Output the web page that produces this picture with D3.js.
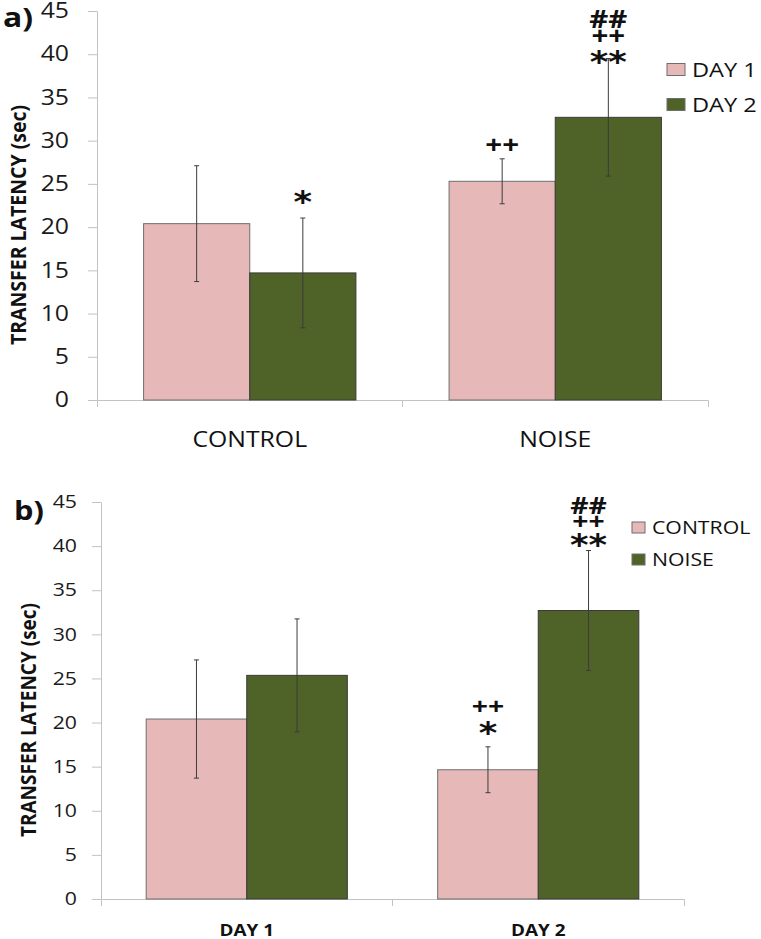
<!DOCTYPE html>
<html><head><meta charset="utf-8">
<script src="https://cdn.jsdelivr.net/npm/d3@7"></script>
<style>html,body{margin:0;padding:0;background:#fff;}svg{display:block;}</style>
</head><body>
<script>
// ---------- DATA ----------
const yTicks = [0, 5, 10, 15, 20, 25, 30, 35, 40, 45];

// Panel a
const catsA = ["CONTROL", "NOISE"];
const seriesA = ["DAY 1", "DAY 2"];
const day1MeanA = [20.4, 25.3];
const day2MeanA = [14.7, 32.7];
const day1ErrA = [6.7, 2.6];
const day2ErrA = [6.35, 6.8];
const day1AnnotA = [[], ["++"]];
const day2AnnotA = [["*"], ["**", "++", "##"]];

// Panel b
const catsB = ["DAY 1", "DAY 2"];
const seriesB = ["CONTROL", "NOISE"];
const controlMeanB = [20.4, 14.65];
const noiseMeanB = [25.35, 32.7];
const controlErrB = [6.7, 2.6];
const noiseErrB = [6.4, 6.8];
const controlAnnotB = [[], ["*", "++"]];
const noiseAnnotB = [[], ["**", "++", "##"]];

// ---------- STYLE ----------
const colors = ["#E6B9B8", "#4F6228"];
const SX = 1.18;
const W = 761, H = 939;
const svg = d3.select("body").append("svg").attr("width", W).attr("height", H);

function stretchText(g, x, y, str, size, weight, anchor, family) {
  return g.append("text")
    .attr("transform", `translate(${x},${y}) scale(${SX},1)`)
    .attr("text-anchor", anchor || "start")
    .attr("font-family", family || "'Open Sans', sans-serif")
    .attr("font-size", size)
    .attr("font-weight", weight || "normal")
    .attr("fill", "#111")
    .text(str);
}

function panel(cfg) {
  const g = svg.append("g");
  const y = d3.scaleLinear().domain([0, 45]).range([cfg.y0, cfg.y45]);
  const x0 = d3.scaleBand().domain(cfg.cats).range([cfg.xl, cfg.xr])
    .paddingInner(cfg.pad).paddingOuter(cfg.pad / 2);
  const x1 = d3.scaleBand().domain(cfg.series).range([0, x0.bandwidth()]);
  const axisColor = "#c3c3c3";

  // y axis
  const ya = d3.axisLeft(y).tickValues(yTicks).tickSize(9).tickSizeOuter(0);
  const yg = g.append("g").attr("transform", `translate(${cfg.xl},0)`).call(ya);
  yg.select(".domain").attr("stroke", axisColor);
  yg.selectAll(".tick line").attr("stroke", axisColor);
  yg.selectAll(".tick text")
    .attr("font-family", "'Open Sans', sans-serif")
    .attr("font-size", cfg.tickFont)
    .attr("fill", "#1a1a1a")
    .attr("x", -cfg.tickOff / SX)
    .attr("transform", `scale(${SX},1)`);

  // x axis
  const xa = d3.axisBottom(x0).tickValues([]).tickSizeOuter(7);
  const xg = g.append("g").attr("transform", `translate(0,${cfg.y0})`).call(xa);
  xg.select(".domain").attr("stroke", axisColor);
  const bounds = d3.range(1, cfg.cats.length).map(i => cfg.xl + i * x0.step());
  xg.selectAll(".btick").data(bounds).join("line").attr("class", "btick")
    .attr("x1", d => d).attr("x2", d => d).attr("y1", 0).attr("y2", 7)
    .attr("stroke", axisColor);

  // bars
  cfg.series.forEach((s, si) => {
    const means = cfg.means[si];
    cfg.cats.forEach((c, ci) => {
      const bx = x0(c) + x1(s);
      g.append("rect").attr("x", bx).attr("y", y(means[ci]))
        .attr("width", x1.bandwidth()).attr("height", y(0) - y(means[ci]))
        .attr("fill", colors[si]).attr("stroke", si === 0 ? "#6e6e6e" : "#3a3a3a").attr("stroke-width", 1);
    });
  });
  cfg.series.forEach((s, si) => {
    const means = cfg.means[si], errs = cfg.errs[si], ann = cfg.annots[si];
    cfg.cats.forEach((c, ci) => {
      const cx = x0(c) + x1(s) + x1.bandwidth() / 2;
      const hi = y(means[ci] + errs[ci]), lo = y(means[ci] - errs[ci]);
      g.append("line").attr("x1", cx).attr("x2", cx).attr("y1", hi).attr("y2", lo)
        .attr("stroke", "#3c3c3c").attr("stroke-width", 1);
      [hi, lo].forEach(v => g.append("line").attr("x1", cx - 2.5).attr("x2", cx + 2.5)
        .attr("y1", v).attr("y2", v).attr("stroke", "#3c3c3c").attr("stroke-width", 1));
      // annotations, stacked upward
      const lifts = cfg.lifts[si][ci];
      ann[ci].forEach((t, li) => {
        const centre = hi - lifts[li];
        if (t.indexOf("*") >= 0) {
          stretchText(g, cx, centre + 17, t, 30, "bold", "middle", "'DejaVu Sans', sans-serif");
        } else {
          stretchText(g, cx, centre + 9, t, cfg.annFont, "bold", "middle");
        }
      });
    });
  });

  // category labels
  cfg.cats.forEach(c => {
    stretchText(g, x0(c) + x0.bandwidth() / 2, cfg.catY, c, cfg.catFont, cfg.catWeight, "middle");
  });

  // y title
  g.append("text")
    .attr("transform", `translate(${cfg.titleX},${cfg.titleY}) rotate(-90) scale(1,1.12)`)
    .attr("text-anchor", "middle")
    .attr("y", 0.36 * cfg.titleFont)
    .attr("font-family", "'Open Sans', sans-serif")
    .attr("font-weight", "bold")
    .attr("font-size", cfg.titleFont)
    .attr("fill", "#111")
    .text("TRANSFER LATENCY (sec)");

  // panel letter
  stretchText(g, cfg.letterX, cfg.letterY, cfg.letter, cfg.letterFont, "bold", "start");

  // legend
  cfg.series.forEach((s, si) => {
    const ly = cfg.legY + si * cfg.legGap;
    g.append("rect").attr("x", cfg.legX).attr("y", ly - cfg.legH / 2)
      .attr("width", cfg.legW).attr("height", cfg.legH)
      .attr("fill", colors[si]).attr("stroke", "#6e6e6e").attr("stroke-width", 1);
    stretchText(g, cfg.legX + cfg.legW + cfg.legTextGap, ly + 0.36 * cfg.legFont, s, cfg.legFont, "normal", "start");
  });
}

panel({
  cats: catsA, series: seriesA,
  means: [day1MeanA, day2MeanA], errs: [day1ErrA, day2ErrA], annots: [day1AnnotA, day2AnnotA],
  lifts: [[[], [14]], [[23], [4, 23, 40]]],
  y0: 400, y45: 11, xl: 97, xr: 708, pad: 0.305,
  tickFont: 21, tickOff: 28, catY: 447, catFont: 21, catWeight: "normal", annFont: 25,
  titleX: 18, titleY: 225, titleFont: 19.5,
  letter: "a)", letterX: 3, letterY: 27, letterFont: 27,
  legX: 667, legY: 69.5, legGap: 35, legW: 18, legH: 12, legTextGap: 7, legFont: 20
});

panel({
  cats: catsB, series: seriesB,
  means: [controlMeanB, noiseMeanB], errs: [controlErrB, noiseErrB], annots: [controlAnnotB, noiseAnnotB],
  lifts: [[[], [20.5, 40.5]], [[], [13, 29.5, 45.5]]],
  y0: 899, y45: 502, xl: 101, xr: 684, pad: 0.31,
  tickFont: 18, tickOff: 24, catY: 935.5, catFont: 16, catWeight: "bold", annFont: 24,
  titleX: 28, titleY: 720, titleFont: 19,
  letter: "b)", letterX: 14, letterY: 520, letterFont: 26,
  legX: 632, legY: 527.5, legGap: 32, legW: 13, legH: 11, legTextGap: 7, legFont: 18
});
</script>
</body></html>
